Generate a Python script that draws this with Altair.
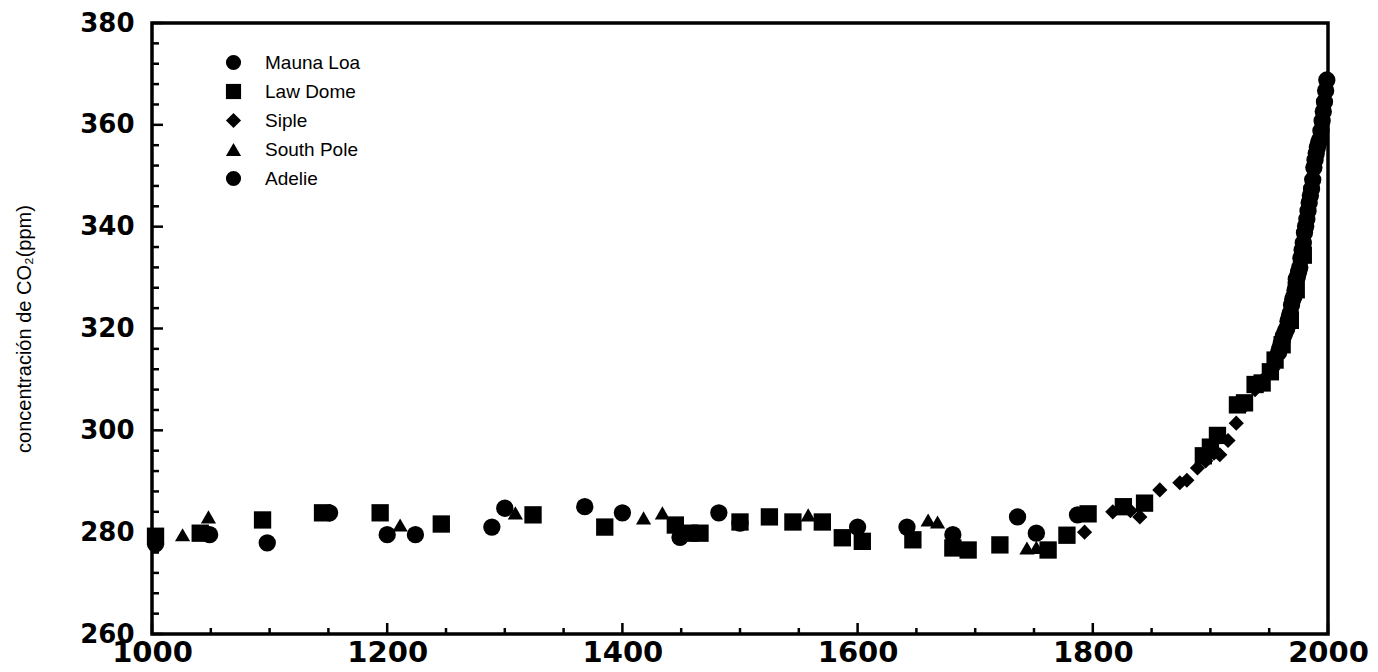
import altair as alt
import pandas as pd

# ---------------- data ----------------
series_names = ["Mauna Loa", "Law Dome", "Siple", "South Pole", "Adelie"]
series_shapes = ["circle", "square", "diamond", "triangle-up", "circle"]

mauna_loa_year = [1958, 1959, 1960, 1961, 1962, 1963, 1964, 1965, 1966, 1967, 1968,
                  1969, 1970, 1971, 1972, 1973, 1974, 1975, 1976, 1977, 1978, 1979,
                  1980, 1981, 1982, 1983, 1984, 1985, 1986, 1987, 1988, 1989, 1990,
                  1991, 1992, 1993, 1994, 1995, 1996, 1997, 1998, 1999]
mauna_loa_ppm = [315.3, 316.0, 316.9, 317.6, 318.5, 319.0, 319.6, 320.0, 321.4, 322.2, 323.0,
                 324.6, 325.7, 326.3, 327.5, 329.7, 330.2, 331.1, 332.0, 333.8, 335.4, 336.8,
                 338.8, 340.1, 341.5, 343.1, 344.7, 346.1, 347.4, 349.2, 351.6, 353.1, 354.4,
                 355.6, 356.5, 357.1, 358.8, 360.8, 362.6, 364.5, 366.7, 368.8]

law_dome_year = [1003, 1041, 1094, 1145, 1194, 1246, 1324, 1385, 1445, 1457, 1466,
                 1500, 1525, 1545, 1570, 1587, 1604, 1647, 1681, 1694, 1721, 1762,
                 1778, 1796, 1826, 1844, 1894, 1900, 1906, 1923, 1929, 1938, 1944,
                 1951, 1955, 1961, 1968, 1973, 1979]
law_dome_ppm = [279.2, 279.8, 282.4, 283.8, 283.8, 281.6, 283.4, 281.0, 281.4, 279.8, 279.8,
                282.0, 283.0, 282.0, 282.0, 278.9, 278.2, 278.5, 276.9, 276.5, 277.5, 276.5,
                279.4, 283.6, 285.0, 285.7, 295.0, 296.7, 299.0, 305.0, 305.4, 309.0, 309.3,
                311.5, 313.8, 316.8, 321.6, 327.6, 334.4]

siple_year = [1793, 1817, 1832, 1840, 1857, 1874, 1880, 1889, 1896, 1903, 1908,
              1915, 1922, 1930, 1938, 1945, 1953]
siple_ppm = [280.0, 284.0, 284.2, 283.0, 288.3, 289.7, 290.2, 292.6, 294.0, 295.5, 295.2,
             298.0, 301.4, 305.0, 308.0, 310.0, 312.0]

south_pole_year = [1026, 1048, 1211, 1309, 1418, 1434, 1558, 1660, 1668, 1744, 1752]
south_pole_ppm = [279.5, 283.0, 281.4, 283.8, 282.8, 283.8, 283.4, 282.4, 282.0, 276.9, 277.0]

adelie_year = [1003, 1049, 1098, 1151, 1200, 1224, 1289, 1300, 1368, 1400, 1449,
               1482, 1500, 1600, 1642, 1681, 1736, 1752, 1787]
adelie_ppm = [277.7, 279.5, 277.9, 283.8, 279.5, 279.5, 281.0, 284.7, 285.0, 283.8, 279.0,
              283.8, 281.8, 281.0, 281.0, 279.5, 283.0, 279.8, 283.4]

x_major = [1000, 1200, 1400, 1600, 1800, 2000]
x_minor = [1050, 1100, 1150, 1250, 1300, 1350, 1450, 1500, 1550,
           1650, 1700, 1750, 1850, 1900, 1950]
y_major = [260, 280, 300, 320, 340, 360, 380]
y_minor = [264, 268, 272, 276, 284, 288, 292, 296, 304, 308, 312, 316,
           324, 328, 332, 336, 344, 348, 352, 356, 364, 368, 372, 376]

# ---------------- tables ----------------
def table(pairs):
    rows = []
    for name, yrs, vals in pairs:
        for a, b in zip(yrs, vals):
            rows.append({"year": a, "ppm": b, "serie": name})
    return pd.DataFrame(rows)

df_big = table([("Law Dome", law_dome_year, law_dome_ppm),
                ("Adelie", adelie_year, adelie_ppm),
                ("Mauna Loa", mauna_loa_year, mauna_loa_ppm)])
df_small = table([("Siple", siple_year, siple_ppm),
                  ("South Pole", south_pole_year, south_pole_ppm)])

W, H = 1176, 611
xs = alt.Scale(domain=[1000, 2000], nice=False, zero=False)
ys = alt.Scale(domain=[260, 380], nice=False, zero=False)

x_axis = alt.Axis(values=x_major, title=None, format="d", ticks=False, domain=False,
                  grid=False, labelFont="DejaVu Sans", labelFontWeight="bold",
                  labelFontSize=29, labelColor="black", labelPadding=4,
                  labelOverlap=False, labelFlush=False, labelBound=False)
y_axis = alt.Axis(values=y_major, title="concentración de CO₂(ppm)", ticks=False,
                  domain=False, grid=False, labelFont="DejaVu Sans",
                  labelFontWeight="bold", labelFontSize=26, labelColor="black",
                  labelPadding=18, labelOverlap=False, labelFlush=False,
                  titleFont="Liberation Sans", titleFontSize=20,
                  titleFontWeight="normal", titleColor="black", titlePadding=45)
shape_enc = alt.Shape("serie:N", scale=alt.Scale(domain=series_names, range=series_shapes),
                      legend=alt.Legend(title=None, orient="none", legendX=72, legendY=30,
                                        labelFont="Liberation Sans", labelFontSize=19,
                                        labelColor="black", symbolSize=230,
                                        symbolFillColor="black", symbolStrokeColor="black",
                                        symbolStrokeWidth=0, rowPadding=9, labelOffset=22,
                                        padding=0))

pts_big = alt.Chart(df_big).mark_point(filled=True, opacity=1, color="black",
                                       strokeWidth=0, size=300).encode(
    x=alt.X("year:Q", scale=xs, axis=x_axis),
    y=alt.Y("ppm:Q", scale=ys, axis=y_axis),
    shape=shape_enc,
)
pts_small = alt.Chart(df_small).mark_point(filled=True, opacity=1, color="black",
                                           strokeWidth=0, size=230).encode(
    x=alt.X("year:Q", scale=xs, axis=x_axis),
    y=alt.Y("ppm:Q", scale=ys, axis=y_axis),
    shape=shape_enc,
)

xmaj = alt.Chart(pd.DataFrame({"year": x_major})).mark_rule(color="black", strokeWidth=2.5).encode(
    x=alt.X("year:Q", scale=xs, axis=x_axis), y=alt.value(H), y2=alt.value(H - 11))
xmin = alt.Chart(pd.DataFrame({"year": x_minor})).mark_rule(color="black", strokeWidth=2.5).encode(
    x=alt.X("year:Q", scale=xs, axis=x_axis), y=alt.value(H), y2=alt.value(H - 6))
ymaj = alt.Chart(pd.DataFrame({"ppm": y_major})).mark_rule(color="black", strokeWidth=2.5).encode(
    y=alt.Y("ppm:Q", scale=ys, axis=y_axis), x=alt.value(0), x2=alt.value(11))
ymin = alt.Chart(pd.DataFrame({"ppm": y_minor})).mark_rule(color="black", strokeWidth=2.5).encode(
    y=alt.Y("ppm:Q", scale=ys, axis=y_axis), x=alt.value(0), x2=alt.value(7))

chart = alt.layer(pts_big, pts_small, xmaj, xmin, ymaj, ymin).properties(
    width=W, height=H,
    background="white",
    padding={"left": 144, "top": 15, "right": 42, "bottom": 38},
    autosize=alt.AutoSizeParams(type="none"),
).configure_view(stroke="black", strokeWidth=3.5)

chart.save("out.html", embed_options={"renderer": "svg", "actions": False})
